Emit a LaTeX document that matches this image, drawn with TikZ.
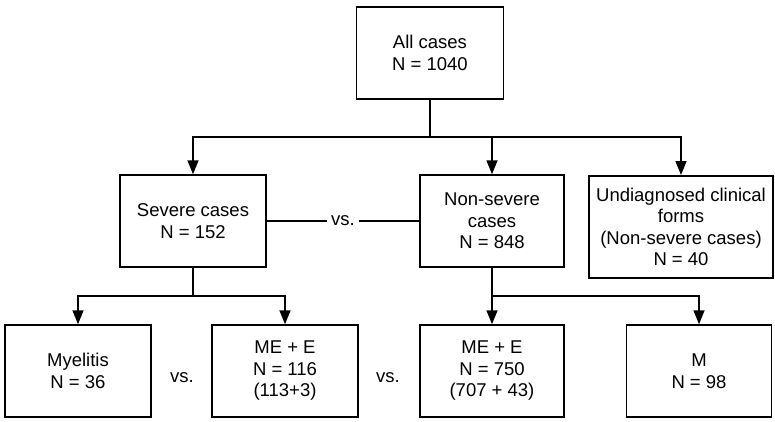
\documentclass[tikz,border=0pt]{standalone}
\usepackage{fontspec}
\setmainfont{Liberation Sans}
\usepackage{tikz}
\usetikzlibrary{positioning}
\usetikzlibrary{arrows.meta}

\begin{document}
\begin{tikzpicture}[x=1pt,y=-1pt,->,>={Triangle[width=11pt,length=14pt]},line width=1.5pt,
  font=\fontsize{18.5}{21.5}\selectfont,
  box/.style={draw,minimum width=146pt,minimum height=92pt,align=center,inner sep=2pt}]
\useasboundingbox (0,0) rectangle (775,421);
\node[box,minimum width=147pt]  (all)    at (430,53)  {All cases\\N = 1040};
\node[box]                      (severe) at (193,221) {Severe cases\\N = 152};
\node[box,minimum width=144pt]  (nonsev) [right of = severe,node distance=299pt] {Non-severe\\cases\\N = 848};
\node[box,minimum width=184pt,minimum height=102pt,anchor=north] (undiag) at (681,175) {Undiagnosed clinical\\forms\\(Non-severe cases)\\N = 40};
\node[box]                      (myel)   at (78,371)  {Myelitis\\N = 36};
\node[box]                      (mee_1)  [right of = myel,node distance=207pt] {ME + E\\N = 116\\(113+3)};
\node[box,minimum width=144pt]  (mee_2)  at (492,371) {ME + E\\N = 750\\(707 + 43)};
\node[box,minimum width=145pt]  (m)      [right of = mee_2,node distance=207pt] {M\\N = 98};
\node (vs_1) at (343,221) {vs.};
\node (vs_2) at (182,378) {vs.};
\node (vs_3) at (388,378) {vs.};
\coordinate (split_1) at (430,137);
\coordinate (split_2) at (193,296);
\coordinate (split_3) at (492,296);
\draw[-] (all) -- (split_1);
\draw (split_1) -| (severe);
\draw (split_1) -| (nonsev);
\draw (split_1) -| (undiag);
\draw[-] (severe) -- (vs_1);
\draw[-] (vs_1) -- (nonsev);
\draw[-] (severe) -- (split_2);
\draw (split_2) -| (myel);
\draw (split_2) -| (mee_1);
\draw (nonsev) -- (mee_2);
\draw (split_3) -| (m);
\end{tikzpicture}
\end{document}
